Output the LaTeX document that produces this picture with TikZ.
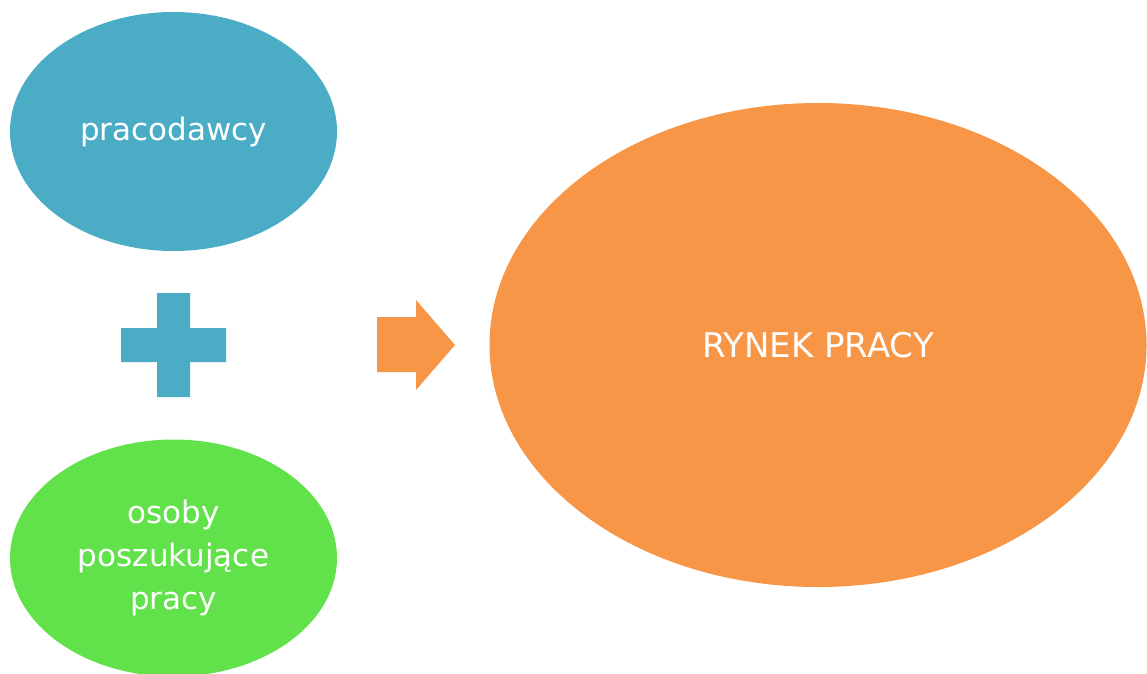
\documentclass[tikz,border=0pt]{standalone}
\usepackage{fontspec}
\setmainfont{DejaVu Sans}
\usetikzlibrary{shapes.geometric}
\definecolor{cblue}{HTML}{4BACC6}
\definecolor{cgreen}{HTML}{62E24A}
\definecolor{corange}{HTML}{F79646}
\begin{document}
\begin{tikzpicture}[x=1pt,y=-1pt,
  blob/.style={ellipse,inner sep=0pt,draw=none,text=white,align=center},
  lbl/.style={font=\fontsize{31}{43}\selectfont}]
\useasboundingbox (0,0) rectangle (1147,673);
\node[blob,fill=cblue,minimum width=327pt,minimum height=239pt,lbl] (emp) at (173.5,131.5) {pracodawcy};
\node[blob,fill=cgreen,minimum width=327pt,minimum height=237pt,lbl] (seek) at (173.5,558) {osoby\\poszukujące\\pracy};
\node[blob,fill=corange,minimum width=657pt,minimum height=484pt,font=\fontsize{34}{40}\selectfont] (market) at (818,345) {RYNEK PRACY};
% plus sign
\fill[cblue] (157,293) -- (190,293) -- (190,328) -- (226,328) -- (226,362) -- (190,362) -- (190,397) -- (157,397) -- (157,362) -- (121,362) -- (121,328) -- (157,328) -- cycle;
% arrow
\fill[corange] (377,317) -- (416,317) -- (416,300) -- (455,345) -- (416,390) -- (416,372) -- (377,372) -- cycle;
\end{tikzpicture}
\end{document}
